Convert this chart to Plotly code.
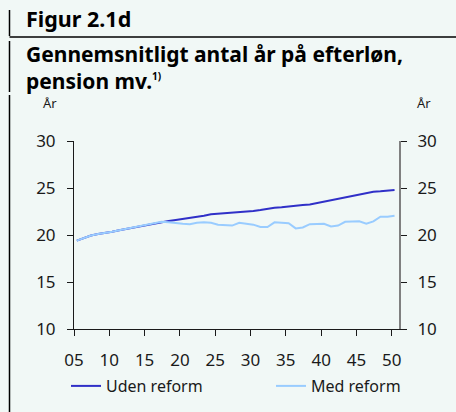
import plotly.graph_objects as go

years = list(range(2005, 2051))
uden_reform = [19.4, 19.7, 19.95, 20.1, 20.2, 20.35, 20.5, 20.65, 20.8, 20.95,
               21.1, 21.25, 21.4, 21.5, 21.6, 21.7, 21.8, 21.95, 22.05, 22.2,
               22.25, 22.3, 22.35, 22.4, 22.45, 22.55, 22.65, 22.8, 22.9, 22.95,
               23.05, 23.1, 23.2, 23.25, 23.4, 23.55, 23.7, 23.85, 24.0, 24.15,
               24.3, 24.5, 24.6, 24.65, 24.7, 24.8]
med_reform = [19.4, 19.7, 19.95, 20.1, 20.2, 20.35, 20.5, 20.65, 20.8, 20.95,
              21.1, 21.25, 21.4, 21.35, 21.25, 21.2, 21.15, 21.3, 21.35, 21.3,
              21.1, 21.05, 21.0, 21.3, 21.2, 21.1, 20.85, 20.85, 21.35, 21.3,
              21.25, 20.7, 20.8, 21.15, 21.2, 21.2, 20.9, 21.0, 21.4, 21.45,
              21.45, 21.2, 21.45, 21.95, 21.95, 22.05]
tick_years = [2005, 2010, 2015, 2020, 2025, 2030, 2035, 2040, 2045, 2050]
tick_labels = ["05", "10", "15", "20", "25", "30", "35", "40", "45", "50"]
y_ticks = [10, 15, 20, 25, 30]

FONT = "Noto Sans"
BG = "#f1f8f6"

fig = go.Figure()
fig.add_trace(go.Scatter(x=years, y=uden_reform, mode="lines", name="Uden reform",
                         line=dict(color="#3030c8", width=2), legend="legend"))
fig.add_trace(go.Scatter(x=years, y=med_reform, mode="lines", name="Med reform",
                         line=dict(color="#99ccff", width=2), legend="legend2"))
fig.add_trace(go.Scatter(x=years, y=uden_reform, mode="lines", yaxis="y2",
                         line=dict(color="rgba(0,0,0,0)", width=0),
                         showlegend=False, hoverinfo="skip"))

tick_pos = [y - 0.4 for y in tick_years]

def px_x(px):
    return (px - 74) / 325.0

def px_y(py):
    return (329 - py) / 188.0

legend_common = dict(orientation="h", xanchor="left", yanchor="middle",
                     bgcolor="rgba(0,0,0,0)", font=dict(size=16), itemwidth=30)

fig.update_layout(
    width=456, height=412,
    margin=dict(l=74, r=57, t=141, b=83, pad=0, autoexpand=False),
    paper_bgcolor=BG, plot_bgcolor=BG,
    font=dict(family=FONT, size=16, color="#1a1a1a"),
    xaxis=dict(range=[2004.6, 2050.63], tickvals=tick_pos, ticktext=tick_labels,
               showgrid=False, zeroline=False, showline=True, linecolor="#1a1a1a",
               linewidth=1, ticks="outside", ticklen=6, tickcolor="#1a1a1a",
               tickfont=dict(size=17), ticklabelstandoff=10, automargin=False),
    yaxis=dict(range=[10, 30], tickvals=y_ticks, showgrid=False, zeroline=False,
               showline=True, linecolor="#1a1a1a", linewidth=1, ticks="outside",
               ticklen=6, tickcolor="#1a1a1a", tickfont=dict(size=17),
               ticklabelstandoff=8, automargin=False),
    yaxis2=dict(range=[10, 30], tickvals=y_ticks, overlaying="y", side="right",
                showgrid=False, zeroline=False, showline=True, linecolor="#808080",
                linewidth=2, ticks="outside", ticklen=6, tickcolor="#1a1a1a",
                tickfont=dict(size=17), ticklabelstandoff=7, automargin=False),
    legend=dict(x=px_x(66), y=px_y(386), **legend_common),
    legend2=dict(x=px_x(271), y=px_y(386), **legend_common),
    showlegend=True,
)

fig.add_annotation(xref="paper", yref="paper", x=px_x(50), y=px_y(103), text="År",
                   showarrow=False, xanchor="center", yanchor="middle", font=dict(size=13))
fig.add_annotation(xref="paper", yref="paper", x=px_x(424), y=px_y(103), text="År",
                   showarrow=False, xanchor="center", yanchor="middle", font=dict(size=13))

fig.add_annotation(xref="paper", yref="paper", x=px_x(24), y=px_y(18), text="<b>Figur 2.1d</b>",
                   showarrow=False, xanchor="left", yanchor="middle", font=dict(size=21.5, color="#000"))
fig.add_annotation(xref="paper", yref="paper", x=px_x(24), y=px_y(67),
                   text="<b>Gennemsnitligt antal år på efterløn,<br>pension mv.<sup><span style='font-size:10px'>1)</span></sup></b>",
                   showarrow=False, xanchor="left", yanchor="middle", align="left",
                   font=dict(size=21, color="#000"))

for y0, y1 in [(10, 36), (41, 92), (95, 412)]:
    fig.add_shape(type="line", xref="paper", yref="paper", x0=px_x(9.5), x1=px_x(9.5),
                  y0=px_y(y0), y1=px_y(y1), line=dict(color="#000", width=1.5))
fig.add_shape(type="line", xref="paper", yref="paper", x0=px_x(9.5), x1=px_x(456),
              y0=px_y(37), y1=px_y(37), line=dict(color="#000", width=1.5))

fig.write_html("out.html", config={"displayModeBar": False},
               post_script="document.body.style.margin='0';document.body.style.overflow='hidden';")
